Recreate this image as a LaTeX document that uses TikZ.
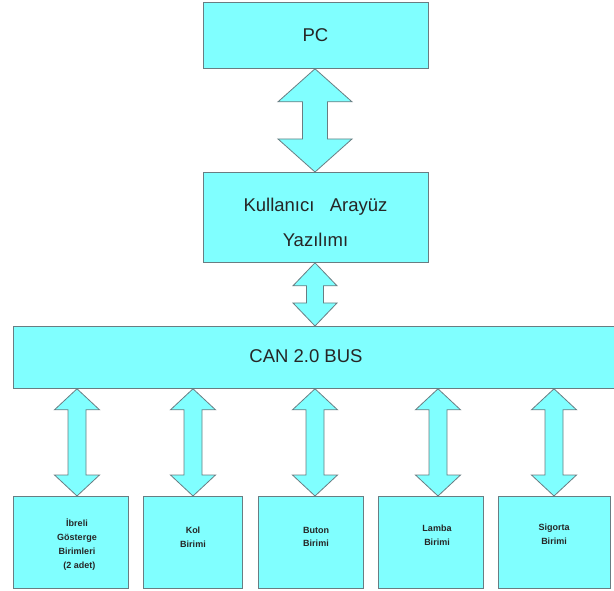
\documentclass[tikz,border=0pt]{standalone}
\usepackage{fontspec}
\setmainfont{Liberation Sans}
\usetikzlibrary{calc}
\definecolor{boxfill}{RGB}{128,255,255}
\definecolor{boxline}{RGB}{105,125,130}
\tikzset{
  blk/.style={draw=boxline, fill=boxfill, line width=0.8pt, inner sep=0pt, anchor=north west},
  arr/.style={draw=boxline, fill=boxfill, line width=0.8pt, line join=miter},
  bigtxt/.style={font=\fontsize{18.5}{35}\selectfont, align=center, text=black!85},
  smalltxt/.style={font=\fontsize{9}{13.8}\selectfont\bfseries, align=center, text=black!85},
}
\newcommand\dualarrow[6]{% #1 upper node, #2 lower node, #3 x, #4 head half width, #5 shaft half width, #6 head length
  \draw[arr] let \p1=(#1.south), \p2=(#2.north) in
    (#3pt,\y1) -- ({#3pt+#4pt},{\y1-#6pt}) -- ({#3pt+#5pt},{\y1-#6pt})
    -- ({#3pt+#5pt},{\y2+#6pt}) -- ({#3pt+#4pt},{\y2+#6pt}) -- (#3pt,\y2)
    -- ({#3pt-#4pt},{\y2+#6pt}) -- ({#3pt-#5pt},{\y2+#6pt})
    -- ({#3pt-#5pt},{\y1-#6pt}) -- ({#3pt-#4pt},{\y1-#6pt}) -- cycle;}
\begin{document}
\begin{tikzpicture}[x=1pt,y=1pt]
\useasboundingbox (0,0) rectangle (614,-591);
\fill[white] (0,0) rectangle (614,-591);
% boxes
\node[blk, minimum width=225pt, minimum height=66pt] (pc) at (203,-2) {};
\node[blk, minimum width=225pt, minimum height=90pt] (ui) at (203,-172) {};
\node[blk, minimum width=604pt, minimum height=62pt] (can) at (13,-326) {};
\node[blk, minimum width=115pt, minimum height=92pt] (b1) at (13,-496) {};
\node[blk, minimum width=99pt, minimum height=92pt] (b2) at (143,-496) {};
\node[blk, minimum width=105pt, minimum height=92pt] (b3) at (258,-496) {};
\node[blk, minimum width=105pt, minimum height=92pt] (b4) at (378,-496) {};
\node[blk, minimum width=112pt, minimum height=92pt] (b5) at (498,-496) {};
% texts
\node[bigtxt] (pct) at (315.5,-35) {PC};
\node[bigtxt] (uit) at (315.5,-222) {Kullanıcı\ \ \ Arayüz\\Yazılımı};
\node[bigtxt] (cant) at (306,-356) {CAN 2.0 BUS};
\node[smalltxt] (t1) at (77,-544.5) {İbreli\\Gösterge\\Birimleri\\\hspace*{5pt}(2 adet)};
\node[smalltxt] (t2) at (193,-537.5) {Kol\\Birimi};
\node[smalltxt] (t3) at (316,-537) {Buton\\Birimi};
\node[smalltxt] (t4) at (437,-535.5) {Lamba\\Birimi};
\node[smalltxt] (t5) at (554,-534.5) {Sigorta\\Birimi};
% arrows
\dualarrow{pc}{ui}{315}{37}{12.5}{33}
\dualarrow{ui}{can}{315}{22}{8.5}{23}
\dualarrow{can}{b1}{77}{22.5}{9}{21}
\dualarrow{can}{b2}{193}{22.5}{9}{21}
\dualarrow{can}{b3}{315}{22.5}{9}{21}
\dualarrow{can}{b4}{438}{22.5}{9}{21}
\dualarrow{can}{b5}{554}{22.5}{9}{21}
\end{tikzpicture}
\end{document}
